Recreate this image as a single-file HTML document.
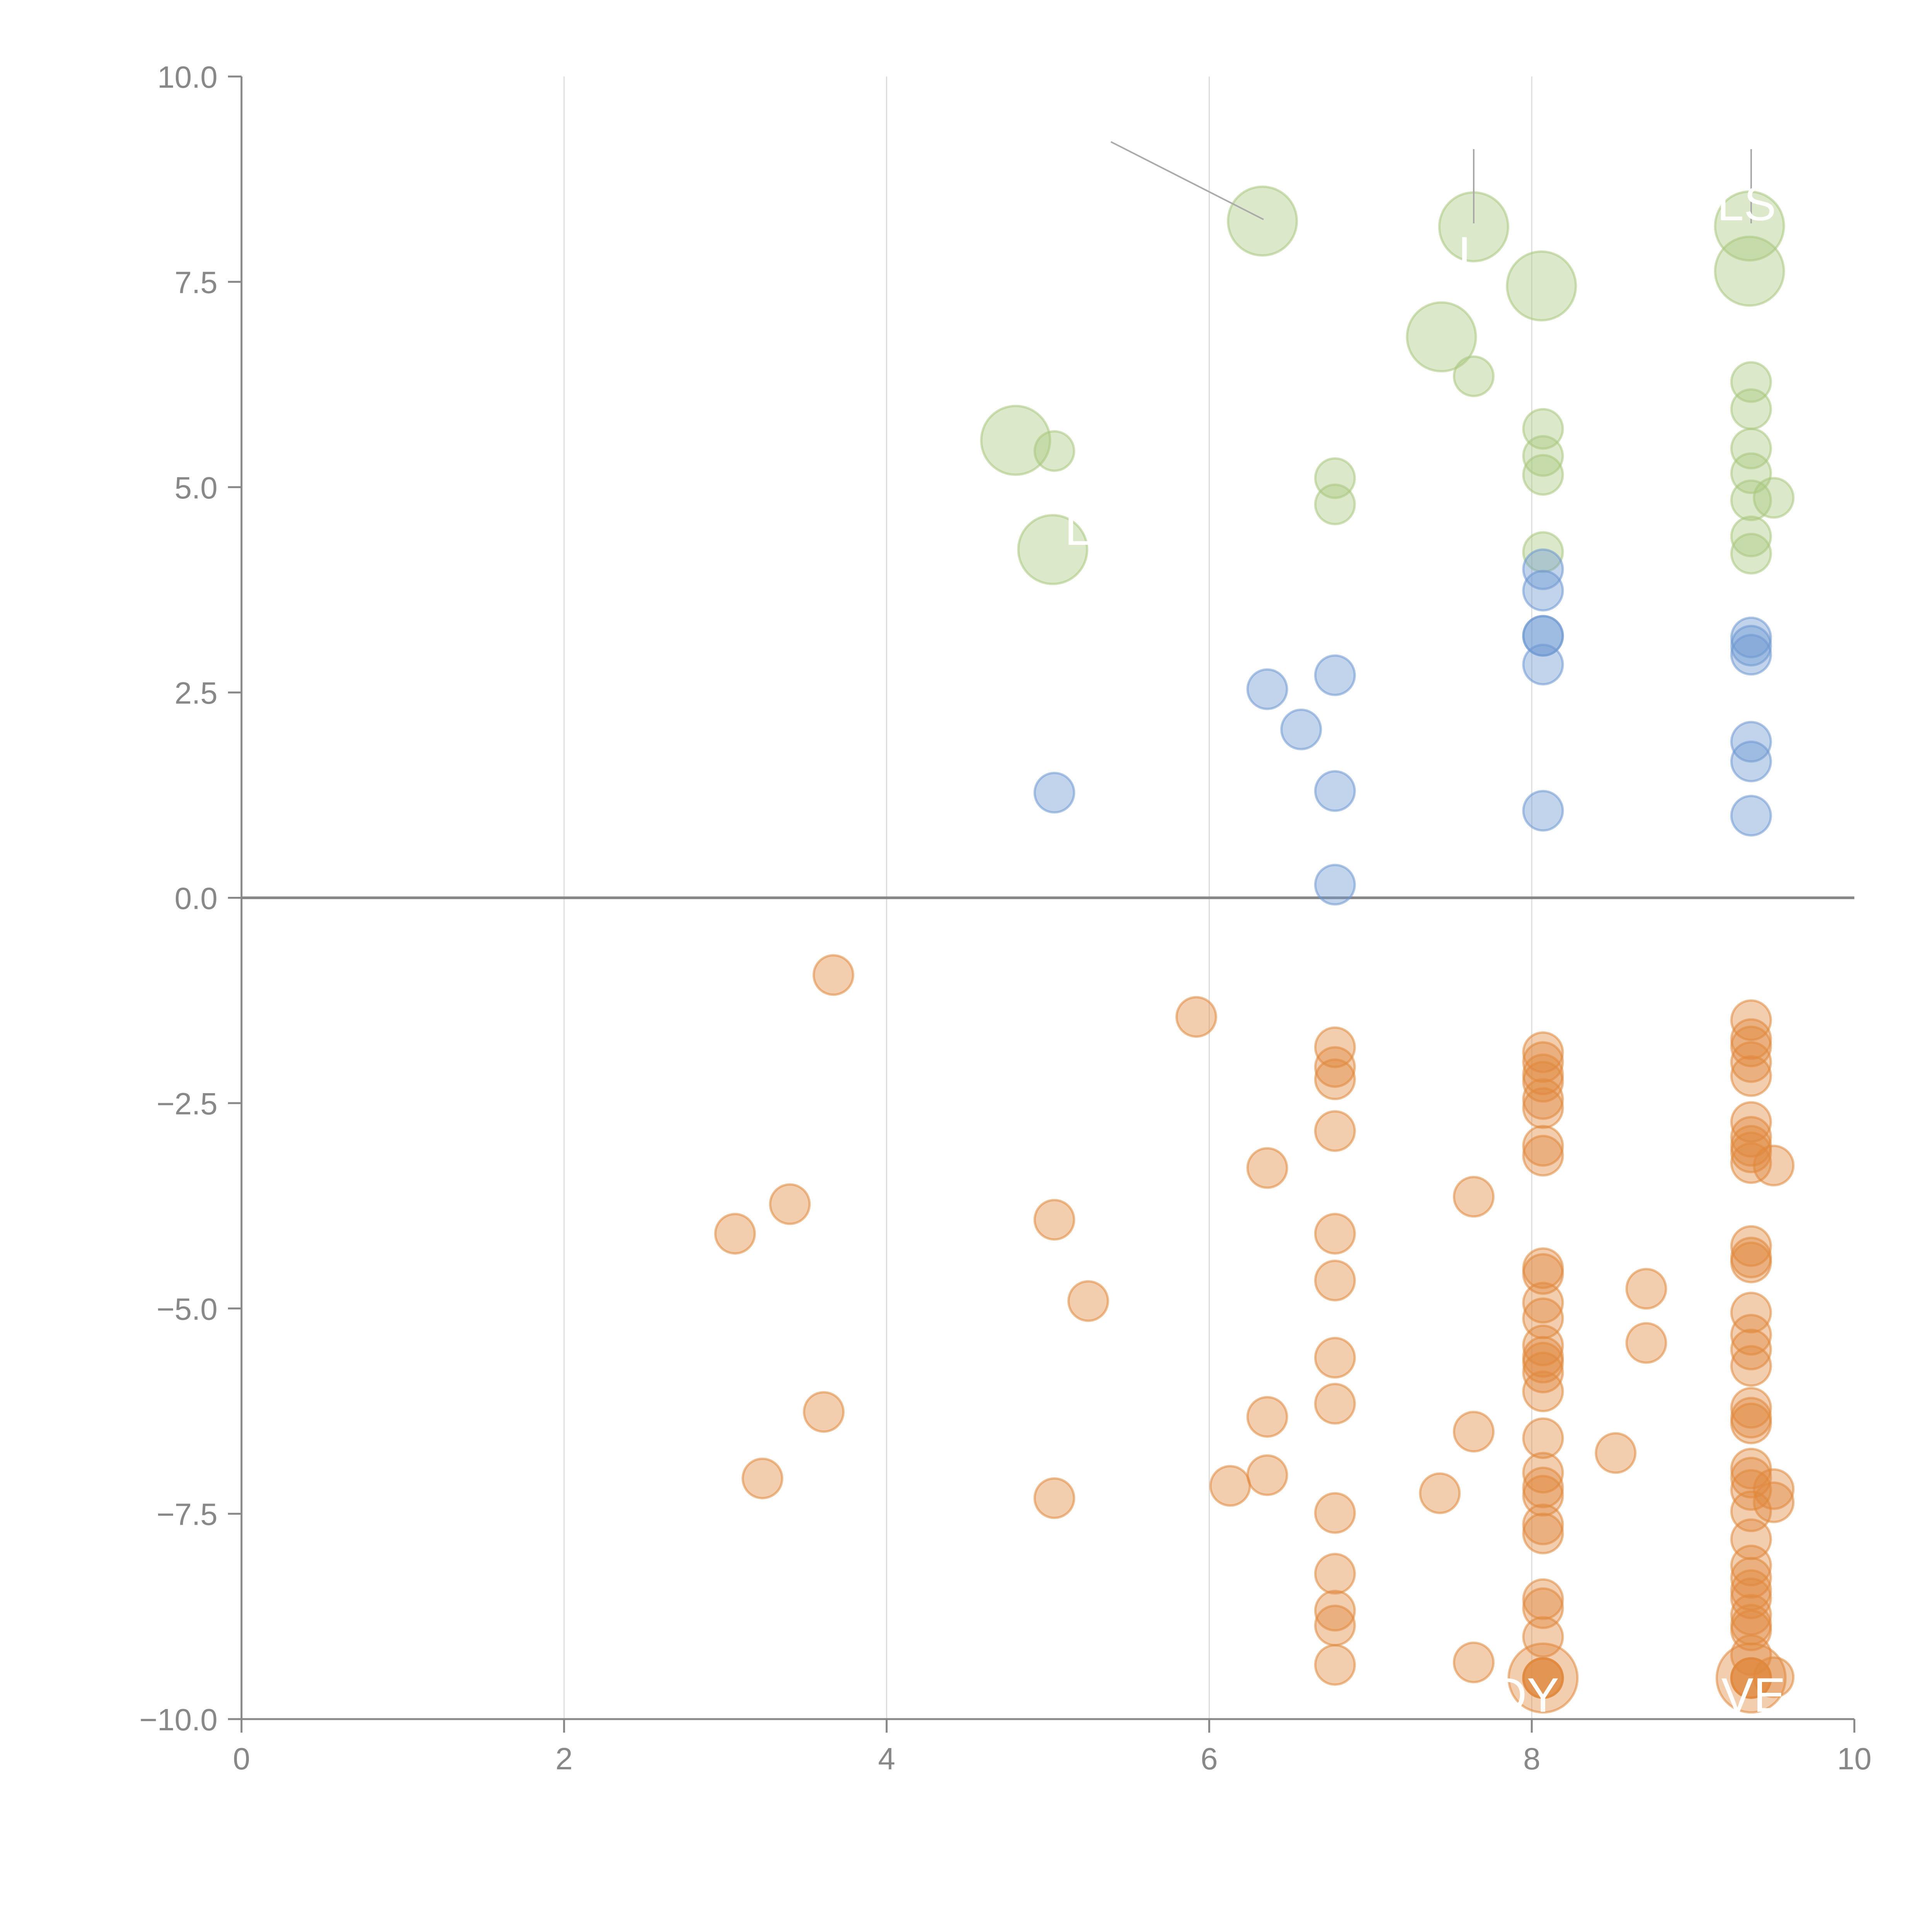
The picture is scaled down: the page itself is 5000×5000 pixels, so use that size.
<!DOCTYPE html>
<html><head><meta charset="utf-8"><title>Bubble scatter</title>
<style>
html,body{margin:0;padding:0;background:#fff;}
svg{display:block;font-family:"Liberation Sans",sans-serif;}
</style></head>
<body>
<svg id="chart" width="5000" height="5000" viewBox="0 0 5000 5000" xmlns="http://www.w3.org/2000/svg">
<g id="grid"></g>
<g id="axes"></g>
<g id="marks"></g>
<g id="annot"></g>
</svg>
<script>
const xTicks=[0,2,4,6,8,10];
const yTicks=[-10,-7.5,-5,-2.5,0,2.5,5,7.5,10];
const yTickLabels=["\u221210.0","\u22127.5","\u22125.0","\u22122.5","0.0","2.5","5.0","7.5","10.0"];
const greenX=[6.33,7.64,9.35,9.35,8.06,7.44,7.64,4.80,5.04,5.03,6.78,6.78,8.07,8.07,8.07,8.07,9.36,9.36,9.36,9.36,9.36,9.36,9.36,9.50];
const greenY=[8.24,8.17,8.18,7.63,7.45,6.83,6.35,5.57,5.44,4.24,5.11,4.79,5.71,5.38,5.15,4.21,6.28,5.95,5.47,5.17,4.84,4.40,4.19,4.87];
const greenS=[2,2,2,2,2,2,1,2,1,2,1,1,1,1,1,1,1,1,1,1,1,1,1,1];
const blueX=[5.04,6.36,6.57,6.78,6.78,6.78,8.07,8.07,8.07,8.07,8.07,8.07,9.36,9.36,9.36,9.36,9.36,9.36];
const blueY=[1.28,2.54,2.05,2.71,1.30,0.16,4.00,3.74,3.19,3.19,2.84,1.06,3.17,3.07,2.96,1.90,1.66,1.00];
const orangeX=[3.67,5.92,3.06,3.40,3.61,3.23,5.04,5.25,5.04,6.13,6.36,6.36,6.36,
6.78,6.78,6.78,6.78,6.78,6.78,6.78,6.78,6.78,6.78,6.78,6.78,6.78,
7.64,7.64,7.64,7.43,8.52,8.71,8.71,
8.07,8.07,8.07,8.07,8.07,8.07,8.07,8.07,8.07,8.07,8.07,8.07,8.07,8.07,8.07,8.07,8.07,8.07,8.07,8.07,8.07,8.07,8.07,8.07,8.07,8.07,8.07,8.07,8.07,8.07,
9.36,9.36,9.36,9.36,9.36,9.36,9.36,9.36,9.36,9.36,9.36,9.36,9.36,9.36,9.36,9.36,9.36,9.36,9.36,9.36,9.36,9.36,9.36,9.36,9.36,9.36,9.36,9.36,9.36,9.36,9.36,9.36,9.36,9.36,9.36,9.36,9.36,
9.50,9.50,9.50,9.50];
const orangeY=[-0.94,-1.45,-4.09,-3.73,-6.26,-7.07,-3.92,-4.91,-7.31,-7.16,-3.29,-6.32,-7.03,
-1.82,-2.06,-2.21,-2.84,-4.09,-4.66,-5.60,-6.16,-7.49,-8.23,-8.68,-8.86,-9.34,
-3.64,-6.50,-9.31,-7.25,-6.76,-4.76,-5.42,
-1.88,-2.00,-2.15,-2.24,-2.45,-2.56,-3.02,-3.14,-4.51,-4.58,-4.93,-5.12,-5.45,-5.59,-5.66,-5.78,-6.01,-6.58,-7.00,-7.18,-7.28,-7.63,-7.74,-8.54,-8.65,-9.00,-9.50,-9.50,-9.50,-9.50,
-1.49,-1.72,-1.81,-2.00,-2.17,-2.73,-2.91,-3.02,-3.10,-3.23,-4.24,-4.38,-4.44,-5.05,-5.32,-5.50,-5.70,-6.21,-6.33,-6.40,-6.95,-7.06,-7.21,-7.47,-7.81,-8.13,-8.28,-8.43,-8.53,-8.73,-8.85,-8.92,-9.22,-9.50,-9.50,-9.50,-9.50,
-3.26,-7.20,-7.36,-9.49];
const orangeS=orangeY.map((v,i)=>0).map((_,i)=>((i===59||i===96)?2:1));

const NS="http://www.w3.org/2000/svg";
const X0=625,X1=4799,Y0=4449,Y1=198;
function sx(v){return X0+(v-0)/(10-0)*(X1-X0);}
function sy(v){return Y0-(v+10)/20*(Y0-Y1);}
function rad(s){return s===2?89:51;}
function el(tag,attrs,parent){const e=document.createElementNS(NS,tag);for(const k in attrs)e.setAttribute(k,attrs[k]);parent.appendChild(e);return e;}
const grid=document.getElementById('grid'),axes=document.getElementById('axes'),marks=document.getElementById('marks'),annot=document.getElementById('annot');
const gray="#888";
xTicks.forEach(t=>{
  if(t>0&&t<10){const g=el('line',{x1:sx(t),x2:sx(t),y1:Y1,y2:Y0,stroke:"#dcdcdc","stroke-width":3},grid);
  
  }
  const tk=el('line',{x1:sx(t),x2:sx(t),y1:Y0,y2:Y0+35,stroke:gray,"stroke-width":5},axes);
  
  
  const tx=el('text',{x:sx(t),y:Y0+130,"text-anchor":"middle","font-size":80,fill:gray},axes);
  
  
  tx.textContent=String(t);
});
yTicks.forEach((t,i)=>{
  const tk=el('line',{x1:X0-35,x2:X0,y1:sy(t),y2:sy(t),stroke:gray,"stroke-width":5},axes);
  
  
  const tx=el('text',{x:X0-62,y:sy(t)+29,"text-anchor":"end","font-size":80,fill:gray},axes);
  
  
  tx.textContent=yTickLabels[i];
});
const ya=el('line',{x1:X0,x2:X0,y1:Y1,y2:Y0,stroke:gray,"stroke-width":5},axes);


const xa=el('line',{x1:X0,x2:X1,y1:Y0,y2:Y0,stroke:gray,"stroke-width":5},axes);


const zl=el('line',{x1:X0,x2:X1,y1:sy(0),y2:sy(0),stroke:gray,"stroke-width":7},axes);



function series(xs,ys,ss,fill,name){
  xs.forEach((x,i)=>{
    const c=el('circle',{cx:sx(x),cy:sy(ys[i]),r:rad(ss?ss[i]:1),fill:fill,"fill-opacity":0.42,stroke:fill,"stroke-opacity":0.55,"stroke-width":6},marks);
    
    
  });
}
series(greenX,greenY,greenS,"#a9c77f","green-bubble");
series(blueX,blueY,null,"#6e98d2","blue-bubble");
series(orangeX,orangeY,orangeS,"#e0893d","orange-bubble");

// annotations
const lines=[[2875,367,3270,568],[3814,386,3814,578],[4532,386,4532,578]];
lines.forEach(l=>{const a=el('line',{x1:l[0],y1:l[1],x2:l[2],y2:l[3],stroke:"#aaa","stroke-width":4},annot);

});
const labels=[["DY",3948,4430],["VE",4538,4430],["LS",4520,570],["I",3790,700],["L",2790,1410]];
labels.forEach(l=>{const t=el('text',{x:l[1],y:l[2],"text-anchor":"middle","font-size":125,fill:"#fff"},annot);


t.textContent=l[0];});
</script>
</body></html>
